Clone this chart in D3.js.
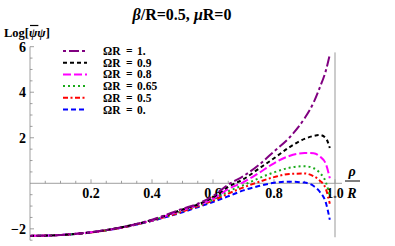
<!DOCTYPE html>
<html>
<head>
<meta charset="utf-8">
<script src="https://cdn.jsdelivr.net/npm/d3@7"></script>
<style>
  body { margin: 0; background: #fff; }
</style>
</head>
<body>
<svg id="chart" width="395" height="246"></svg>
<script>
// rho/R sample points
const rho = [0, 0.1, 0.2, 0.3, 0.4, 0.5, 0.55, 0.6, 0.65, 0.7, 0.75, 0.8, 0.85, 0.9, 0.93, 0.95, 0.97, 0.983];

// Log[psibar psi] for each Omega R
const omega1   = [-2.31, -2.27, -2.15, -1.93, -1.60, -1.12, -0.90, -0.56, -0.06, 0.32, 0.80, 1.40, 2.00, 2.85, 3.55, 4.20, 4.95, 5.65];
const omega09  = [-2.31, -2.27, -2.15, -1.93, -1.61, -1.15, -0.93, -0.62, -0.15, 0.18, 0.64, 1.10, 1.58, 1.95, 2.08, 2.12, 1.98, 1.55];
const omega08  = [-2.31, -2.27, -2.15, -1.94, -1.62, -1.18, -0.96, -0.68, -0.25, 0.05, 0.45, 0.88, 1.20, 1.33, 1.32, 1.18, 0.85, 0.22];
const omega065 = [-2.31, -2.27, -2.16, -1.94, -1.63, -1.21, -0.98, -0.72, -0.35, -0.08, 0.22, 0.48, 0.68, 0.75, 0.66, 0.46, 0.05, -0.55];
const omega05  = [-2.31, -2.27, -2.16, -1.95, -1.64, -1.24, -1.01, -0.76, -0.45, -0.18, 0.06, 0.27, 0.41, 0.43, 0.31, 0.12, -0.25, -0.90];
const omega0   = [-2.31, -2.27, -2.16, -1.95, -1.65, -1.27, -1.05, -0.82, -0.57, -0.31, -0.12, 0.02, 0.07, 0.03, -0.12, -0.37, -0.85, -1.60];

const legendValues = ["1.", "0.9", "0.8", "0.65", "0.5", "0."];
const xTicks = [0.2, 0.4, 0.6, 0.8, 1.0];
const yTicks = [-2, 2, 4, 6];

const series = [
  { values: omega1,   color: "#800080", dash: "3,3,10,3" },
  { values: omega09,  color: "#000000", dash: "4,3" },
  { values: omega08,  color: "#ff00ff", dash: "8,3" },
  { values: omega065, color: "#1aaa1a", dash: "2,3" },
  { values: omega05,  color: "#ff0000", dash: "5,2.5,2,2.5" },
  { values: omega0,   color: "#0000ff", dash: "5,3" }
];

const FONT = "Liberation Serif";
const svg = d3.select("#chart");

const x = d3.scaleLinear().domain([0, 1]).range([30, 335]);
const y = d3.scaleLinear().domain([0, 6]).range([183.3, 46.7]);

// axes (Mathematica-like, ticks pointing inward)
const axes = svg.append("g").attr("stroke", "#888").attr("stroke-width", 0.8);
axes.append("line").attr("x1", x(0)).attr("x2", x(1.023)).attr("y1", y(0)).attr("y2", y(0));
axes.append("line").attr("x1", x(0)).attr("x2", x(0)).attr("y1", y(6)).attr("y2", y(-2.5));

d3.range(0.05, 1.01, 0.05).forEach(v => {
  const major = Math.abs(v * 5 - Math.round(v * 5)) < 1e-6;
  axes.append("line")
    .attr("x1", x(v)).attr("x2", x(v))
    .attr("y1", y(0)).attr("y2", y(0) - (major ? 4 : 2.5));
});
d3.range(-2.5, 6.01, 0.5).forEach(v => {
  if (Math.abs(v) < 1e-6) return;
  const major = Math.abs(v / 2 - Math.round(v / 2)) < 1e-6;
  axes.append("line")
    .attr("x1", x(0)).attr("x2", x(0) + (major ? 4 : 2.5))
    .attr("y1", y(v)).attr("y2", y(v));
});

// tick labels
svg.selectAll(".xt").data(xTicks).enter().append("text")
  .attr("x", d => x(d)).attr("y", y(0) + 15)
  .attr("text-anchor", "middle").attr("font-size", 14)
  .text(d => d.toFixed(1));
svg.selectAll(".yt").data(yTicks).enter().append("text")
  .attr("x", x(0) - 4).attr("y", d => y(d) + 5)
  .attr("text-anchor", "end").attr("font-size", 14)
  .text(d => d < 0 ? "\u2212" + Math.abs(d) : d);

// vertical gray line at rho/R = 1
svg.append("line")
  .attr("x1", x(1)).attr("x2", x(1))
  .attr("y1", y(5.75)).attr("y2", y(-2.37))
  .attr("stroke", "#999").attr("stroke-width", 1);

// curves
const line = d3.line()
  .x((d, i) => x(rho[i]))
  .y(d => y(d))
  .curve(d3.curveMonotoneX);

series.slice().reverse().forEach(s => {
  svg.append("path")
    .datum(s.values)
    .attr("d", line)
    .attr("fill", "none")
    .attr("stroke", s.color)
    .attr("stroke-width", 2)
    .attr("stroke-dasharray", s.dash);
});

// legend
const leg = svg.append("g");
series.forEach((s, i) => {
  const ly = 51 + i * 11.7;
  leg.append("line")
    .attr("x1", 63).attr("x2", 87).attr("y1", ly).attr("y2", ly)
    .attr("stroke", s.color).attr("stroke-width", 2)
    .attr("stroke-dasharray", s.dash);
  const t = leg.append("text").attr("y", ly + 4).attr("font-size", 11.5);
  t.append("tspan").attr("x", 103).text("ΩR");
  t.append("tspan").attr("x", 126).text("=");
  t.append("tspan").attr("x", 137).text(legendValues[i]);
});

// title
const title = svg.append("text")
  .attr("x", 182).attr("y", 20)
  .attr("text-anchor", "middle").attr("font-size", 16);
title.append("tspan").attr("font-style", "italic").text("β");
title.append("tspan").text("/R=0.5, ");
title.append("tspan").attr("font-style", "italic").text("μ");
title.append("tspan").text("R=0");

// y label
const yl = svg.append("text").attr("x", 4).attr("y", 37).attr("font-size", 12.5);
yl.append("tspan").text("Log[");
yl.append("tspan").attr("font-style", "italic").text("ψψ");
yl.append("tspan").text("]");

// x label rho / R
svg.append("text").attr("x", 352).attr("y", 176)
  .attr("text-anchor", "middle").attr("font-size", 14)
  .attr("font-style", "italic").text("ρ");
svg.append("line")
  .attr("x1", 345).attr("x2", 360).attr("y1", 181).attr("y2", 181)
  .attr("stroke", "#000").attr("stroke-width", 1);
svg.append("text").attr("x", 352).attr("y", 198)
  .attr("text-anchor", "middle").attr("font-size", 14)
  .attr("font-style", "italic").text("R");

// all texts: bold serif
svg.selectAll("text").attr("font-family", FONT).attr("font-weight", "bold");

// overline over the first psi (measured after the font is set)
const node = yl.node();
const x0 = 4 + node.getSubStringLength(0, 4);
const w0 = node.getSubStringLength(4, 1);
svg.append("line")
  .attr("x1", x0 + 1).attr("x2", x0 + w0 + 1).attr("y1", 25.5).attr("y2", 25.5)
  .attr("stroke", "#000").attr("stroke-width", 1.2);
</script>
</body>
</html>
